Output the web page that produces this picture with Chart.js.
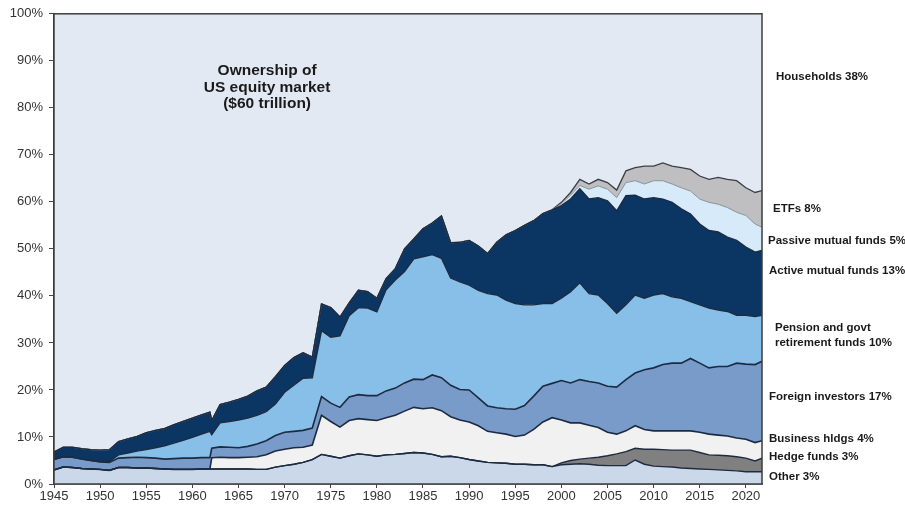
<!DOCTYPE html>
<html>
<head>
<meta charset="utf-8">
<script src="https://cdn.jsdelivr.net/npm/chart.js@4.4.1/dist/chart.umd.min.js"></script>
<style>
  html, body { margin: 0; padding: 0; background: #fff; }
  #wrap { width: 905px; height: 508px; position: relative; }
</style>
</head>
<body>
<div id="wrap"><canvas id="owners"></canvas></div>
<script>
// x positions (year), 1962 has a break where business holdings start
const years = [
  1945, 1946, 1947, 1948, 1949, 1950, 1951, 1952, 1953, 1954,
  1955, 1956, 1957, 1958, 1959, 1960, 1961, 1961.9, 1962.1,
  1963, 1964, 1965, 1966, 1967, 1968, 1969, 1970, 1971, 1972,
  1973, 1974, 1975, 1976, 1977, 1978, 1979, 1980, 1981, 1982,
  1983, 1984, 1985, 1986, 1987, 1988, 1989, 1990, 1991, 1992,
  1993, 1994, 1995, 1996, 1997, 1998, 1999, 2000, 2001, 2002,
  2003, 2004, 2005, 2006, 2007, 2008, 2009, 2010, 2011, 2012,
  2013, 2014, 2015, 2016, 2017, 2018, 2019, 2020, 2021, 2021.75
];

// upper edge of each band, % of market
const otherTop = [
  3.0, 3.6, 3.5, 3.3, 3.2, 3.1, 2.9, 3.5, 3.5, 3.4,
  3.4, 3.3, 3.2, 3.1, 3.1, 3.1, 3.2, 3.2, 3.2,
  3.2, 3.2, 3.2, 3.2, 3.1, 3.1, 3.6, 3.9, 4.2, 4.6,
  5.2, 6.3, 5.9, 5.5, 6.0, 6.4, 6.2, 5.9, 6.2, 6.3,
  6.5, 6.7, 6.6, 6.3, 5.8, 5.9, 5.6, 5.2, 4.9, 4.6,
  4.5, 4.4, 4.2, 4.2, 4.1, 4.1, 3.7, 4.1, 4.2, 4.3,
  4.2, 4.0, 3.9, 3.9, 3.9, 5.1, 4.2, 3.8, 3.7, 3.6,
  3.4, 3.3, 3.2, 3.1, 3.0, 2.9, 2.8, 2.6, 2.6, 2.6
];
const hedgeTop = [
  3.0, 3.6, 3.5, 3.3, 3.2, 3.1, 2.9, 3.5, 3.5, 3.4,
  3.4, 3.3, 3.2, 3.1, 3.1, 3.1, 3.2, 3.2, 3.2,
  3.2, 3.2, 3.2, 3.2, 3.1, 3.1, 3.6, 3.9, 4.2, 4.6,
  5.2, 6.3, 5.9, 5.5, 6.0, 6.4, 6.2, 5.9, 6.2, 6.3,
  6.5, 6.7, 6.6, 6.3, 5.8, 5.9, 5.6, 5.2, 4.9, 4.6,
  4.5, 4.4, 4.2, 4.2, 4.1, 4.1, 3.7, 4.5, 5.0, 5.3,
  5.5, 5.7, 6.0, 6.4, 6.9, 7.6, 7.4, 7.4, 7.3, 7.2,
  7.2, 7.2, 6.7, 6.2, 6.1, 6.0, 5.8, 5.5, 4.9, 5.5
];
const businessTop = [
  3.0, 3.6, 3.5, 3.3, 3.2, 3.1, 2.9, 3.5, 3.5, 3.4,
  3.4, 3.3, 3.2, 3.1, 3.1, 3.1, 3.2, 3.2, 5.6,
  5.7, 5.6, 5.6, 5.7, 5.8, 6.2, 7.0, 7.4, 7.7, 7.8,
  8.3, 14.6, 13.3, 12.1, 13.5, 13.9, 13.7, 13.5, 14.1, 14.6,
  15.5, 16.3, 16.0, 16.2, 15.6, 14.3, 13.6, 13.2, 12.4, 11.2,
  10.9, 10.6, 10.1, 10.4, 11.6, 13.2, 14.1, 13.6, 13.0, 13.0,
  12.5, 12.0, 11.0, 10.6, 11.3, 12.4, 11.6, 11.3, 11.3, 11.3,
  11.3, 11.3, 11.0, 10.6, 10.4, 10.2, 9.8, 9.5, 8.8, 9.2
];
const foreignTop = [
  5.2, 5.8, 5.7, 5.3, 5.0, 4.7, 4.6, 5.5, 5.6, 5.7,
  5.6, 5.5, 5.3, 5.4, 5.5, 5.5, 5.6, 5.6, 7.6,
  7.9, 7.8, 7.7, 8.0, 8.5, 9.2, 10.3, 11.0, 11.2, 11.4,
  11.9, 18.6, 17.2, 16.3, 18.5, 19.0, 18.8, 18.8, 19.8, 20.4,
  21.5, 22.3, 22.2, 23.2, 22.6, 21.0, 20.1, 20.0, 18.3, 16.6,
  16.2, 16.0, 15.9, 16.7, 18.7, 20.8, 21.4, 22.0, 21.5, 22.2,
  21.8, 21.5, 20.8, 20.6, 22.2, 23.6, 24.3, 24.7, 25.4, 25.7,
  25.7, 26.7, 25.7, 24.7, 25.0, 25.0, 25.7, 25.5, 25.4, 26.1
];
const pensionTop = [
  5.2, 5.8, 5.7, 5.3, 5.0, 4.8, 4.8, 6.2, 6.6, 7.0,
  7.3, 7.7, 8.1, 8.7, 9.3, 9.9, 10.6, 11.2, 10.5,
  13.0, 13.3, 13.6, 14.0, 14.6, 15.4, 17.0, 19.5, 21.0, 22.5,
  22.6, 32.6, 31.2, 31.5, 35.8, 37.5, 37.4, 36.6, 41.3, 43.4,
  45.2, 47.9, 48.3, 48.8, 48.0, 43.8, 43.0, 42.3, 41.2, 40.5,
  40.2, 39.1, 38.4, 38.1, 38.1, 38.4, 38.4, 39.5, 40.9, 42.8,
  40.5, 40.2, 38.4, 36.3, 38.1, 40.2, 39.5, 40.2, 40.5, 39.8,
  39.5, 38.8, 38.1, 37.4, 37.0, 36.7, 35.9, 35.9, 35.6, 35.9
];
const activeTop = [
  6.8, 7.8, 7.8, 7.5, 7.3, 7.2, 7.3, 9.0, 9.6, 10.1,
  10.9, 11.4, 11.8, 12.6, 13.3, 14.0, 14.7, 15.3, 13.5,
  16.9, 17.4, 18.0, 18.7, 19.8, 20.6, 22.8, 25.2, 26.9, 27.9,
  27.0, 38.3, 37.5, 35.5, 38.5, 41.2, 40.9, 39.5, 43.7, 45.8,
  50.0, 52.1, 54.3, 55.5, 57.0, 51.3, 51.4, 51.8, 50.6, 49.0,
  51.4, 53.0, 53.9, 55.0, 56.0, 57.5, 58.3, 59.2, 60.6, 62.8,
  60.6, 60.9, 60.2, 58.1, 61.3, 61.4, 60.6, 60.9, 60.6, 59.9,
  58.5, 57.4, 55.3, 53.9, 53.6, 52.5, 51.8, 50.4, 49.3, 49.7
];
const passiveTop = [
  6.8, 7.8, 7.8, 7.5, 7.3, 7.2, 7.3, 9.0, 9.6, 10.1,
  10.9, 11.4, 11.8, 12.6, 13.3, 14.0, 14.7, 15.3, 13.5,
  16.9, 17.4, 18.0, 18.7, 19.8, 20.6, 22.8, 25.2, 26.9, 27.9,
  27.0, 38.3, 37.5, 35.5, 38.5, 41.2, 40.9, 39.5, 43.7, 45.8,
  50.0, 52.1, 54.3, 55.5, 57.0, 51.3, 51.4, 51.8, 50.6, 49.0,
  51.4, 53.0, 53.9, 55.0, 56.0, 57.5, 58.3, 59.6, 61.4, 63.5,
  62.7, 63.4, 62.7, 60.9, 64.1, 64.5, 63.8, 64.5, 64.5, 63.8,
  63.0, 62.3, 60.6, 59.9, 59.5, 58.8, 57.8, 57.1, 55.3, 54.6
];
const etfTop = [
  6.8, 7.8, 7.8, 7.5, 7.3, 7.2, 7.3, 9.0, 9.6, 10.1,
  10.9, 11.4, 11.8, 12.6, 13.3, 14.0, 14.7, 15.3, 13.5,
  16.9, 17.4, 18.0, 18.7, 19.8, 20.6, 22.8, 25.2, 26.9, 27.9,
  27.0, 38.3, 37.5, 35.5, 38.5, 41.2, 40.9, 39.5, 43.7, 45.8,
  50.0, 52.1, 54.3, 55.5, 57.0, 51.3, 51.4, 51.8, 50.6, 49.0,
  51.4, 53.0, 53.9, 55.0, 56.0, 57.5, 58.3, 59.9, 62.0, 64.8,
  63.8, 64.8, 64.1, 62.5, 66.6, 67.3, 67.6, 67.6, 68.3, 67.6,
  67.3, 66.9, 65.5, 64.8, 65.2, 64.8, 64.5, 63.0, 62.0, 62.4
];

const xTicks = [1945, 1950, 1955, 1960, 1965, 1970, 1975, 1980, 1985, 1990, 1995, 2000, 2005, 2010, 2015, 2020];
const yTicks = [0, 10, 20, 30, 40, 50, 60, 70, 80, 90, 100];

const titleLines = ['Ownership of', 'US equity market', '($60 trillion)'];
const sideLabels = [
  ['Households 38%'],
  ['ETFs 8%'],
  ['Passive mutual funds 5%'],
  ['Active mutual funds 13%'],
  ['Pension and govt', 'retirement funds 10%'],
  ['Foreign investors 17%'],
  ['Business hldgs 4%'],
  ['Hedge funds 3%'],
  ['Other 3%']
];
// where each side label sits (y in %, x offset in px from plot edge)
const sideLabelAt = [86.5, 58.6, 51.8, 45.3, 31.7, 18.5, 9.6, 5.8, 1.6];
const sideLabelDx = [14, 11, 6, 7, 13, 7, 7, 7, 7];

const LINE = '#1c2b40';

function pts(arr) {
  return years.map((x, i) => ({ x, y: arr[i] }));
}

function band(label, arr, fill, bg, border, bw) {
  return {
    label,
    data: pts(arr),
    fill,
    backgroundColor: bg,
    borderColor: border,
    borderWidth: bw,
    pointRadius: 0,
    tension: 0
  };
}

const datasets = [
  band('Other', otherTop, 'origin', '#cbd8ea', LINE, 1.4),
  band('Hedge funds', hedgeTop, '-1', '#808081', LINE, 1.4),
  band('Business hldgs', businessTop, '-1', '#f1f1f2', LINE, 1.6),
  band('Foreign investors', foreignTop, '-1', '#799bca', LINE, 1.6),
  band('Pension and govt retirement funds', pensionTop, '-1', '#88bfe9', LINE, 1.4),
  band('Active mutual funds', activeTop, '-1', '#0b3562', LINE, 1.4),
  band('Passive mutual funds', passiveTop, '-1', '#d6eaf9', '#8a9099', 1),
  band('ETFs', etfTop, '-1', '#bfbfc1', '#3a3f47', 1.3),
  band('Households', etfTop, 'end', '#e3e9f3', 'rgba(0,0,0,0)', 0)
];

const overlay = {
  id: 'overlay',
  afterDraw(chart) {
    const { ctx, chartArea: a, scales } = chart;
    const xs = scales.x, ys = scales.y;
    ctx.save();
    // frame
    ctx.strokeStyle = '#3d3d3d';
    ctx.lineWidth = 1.5;
    ctx.strokeRect(a.left, a.top, a.right - a.left, a.bottom - a.top);

    // title inside the plot
    ctx.fillStyle = '#1a1a1a';
    ctx.font = 'bold 15.5px "Liberation Sans", Arial, sans-serif';
    ctx.textAlign = 'center';
    ctx.textBaseline = 'middle';
    const tx = xs.getPixelForValue(1968.1);
    const ty = ys.getPixelForValue(87.8);
    titleLines.forEach((t, i) => ctx.fillText(t, tx, ty + i * 16.5));

    // labels on the right
    ctx.font = 'bold 11.5px "Liberation Sans", Arial, sans-serif';
    ctx.textAlign = 'left';
    sideLabels.forEach((lines, i) => {
      const cy = ys.getPixelForValue(sideLabelAt[i]);
      const y0 = cy - (lines.length - 1) * 7.5;
      lines.forEach((t, j) => ctx.fillText(t, a.right + sideLabelDx[i], y0 + j * 15));
    });
    ctx.restore();
  }
};

new Chart(document.getElementById('owners'), {
  type: 'line',
  data: { datasets },
  options: {
    responsive: true,
    maintainAspectRatio: false,
    animation: false,
    layout: { padding: { top: 10, right: 143, bottom: 0, left: 0 } },
    plugins: {
      legend: { display: false },
      tooltip: { enabled: false },
      filler: { drawTime: 'beforeDatasetsDraw' }
    },
    scales: {
      x: {
        type: 'linear',
        min: 1945,
        max: 2021.75,
        afterBuildTicks: s => { s.ticks = xTicks.map(v => ({ value: v })); },
        afterFit: s => { s.height = 24; },
        ticks: {
          color: '#333',
          font: { family: '"Liberation Sans", Arial, sans-serif', size: 13 },
          padding: 1,
          maxRotation: 0,
          autoSkip: false,
          callback: v => String(v)
        },
        grid: { drawOnChartArea: false, drawTicks: true, tickLength: 4, color: '#444' },
        border: { color: '#3d3d3d', width: 1.5 }
      },
      y: {
        min: 0,
        max: 100,
        afterBuildTicks: s => { s.ticks = yTicks.map(v => ({ value: v })); },
        afterFit: s => { s.width = 54; },
        ticks: {
          color: '#333',
          font: { family: '"Liberation Sans", Arial, sans-serif', size: 13 },
          padding: 6,
          callback: v => v + '%'
        },
        grid: { drawOnChartArea: false, drawTicks: true, tickLength: 5, color: '#444' },
        border: { color: '#3d3d3d', width: 1.5 }
      }
    }
  },
  plugins: [overlay]
});
</script>
</body>
</html>
